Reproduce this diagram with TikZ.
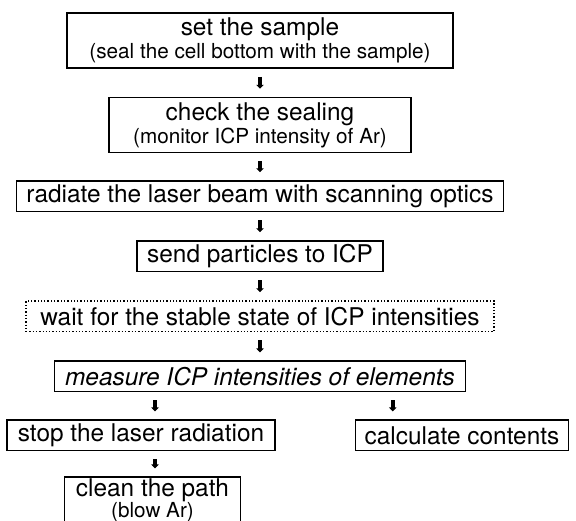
\documentclass[tikz,border=0pt]{standalone}
\usepackage{fontspec}
\setmainfont{TeX Gyre Heros}
\usetikzlibrary{positioning,arrows.meta}
\newcommand{\paren}[1]{{\fontsize{20.7pt}{23pt}\selectfont #1}}

\begin{document}
\begin{tikzpicture}[
        stage/.style={draw, line width=1.5pt, inner sep=0pt, align=center, minimum height=30.5pt, font=\fontsize{24.4pt}{23pt}\selectfont},
        waitstage/.style={stage, line width=1.6pt, dash pattern=on 1.3pt off 2pt},
        flow/.style={line width=4pt, -{Triangle[width=7.5pt,length=4pt]}, shorten <=8pt, shorten >=8pt}
    ]
        \useasboundingbox (0,0) rectangle (576pt,-520pt);
        \clip (0,0) rectangle (576pt,-520pt);

        % Main column
        \node[stage, minimum width=386pt, minimum height=55pt] (sample) at (260pt,-40.5pt)
            {set the sample\\ \paren{(seal the cell bottom with the sample)}};
        \node[stage, minimum width=302pt, minimum height=55pt, below=28pt of sample] (sealing)
            {check the sealing\\ \paren{(monitor ICP intensity of Ar)}};
        \node[stage, minimum width=487pt, below=27pt of sealing] (laser) {radiate the laser beam with scanning optics};
        \node[stage, minimum width=246pt, below=28pt of laser] (send) {send particles to ICP};
        \node[waitstage, minimum width=468pt, below=28pt of send] (wait) {wait for the stable state of ICP intensities};
        \node[stage, minimum width=411pt, below=28pt of wait] (measure) {\itshape measure ICP intensities of elements};

        % Branches
        \node[stage, minimum width=268pt, below=27pt of measure, xshift=-119pt] (stop) {stop the laser radiation};
        \node[stage, minimum width=213pt, below=27pt of measure, xshift=202pt] (calc) {calculate contents};
        \node[stage, minimum width=176pt, minimum height=56pt, text depth=14pt, below=25pt of stop, xshift=11.5pt] (clean)
            {clean the path\\[-2pt] \paren{(blow Ar)}};

        % Arrows
        \coordinate (drop) at ([xshift=14pt]stop.north);
        \coordinate (intake) at ([xshift=38pt]calc.north west);
        \draw[flow] (sample) -- (sealing);
        \draw[flow] (sealing) -- (laser);
        \draw[flow] (laser) -- (send);
        \draw[flow] (send) -- (wait);
        \draw[flow] (wait) -- (measure);
        \draw[flow] (drop |- measure.south) -- (drop |- stop.north);
        \draw[flow] (drop |- stop.south) -- (drop |- clean.north);
        \draw[flow] (intake |- measure.south) -- (intake);
    \end{tikzpicture}
\end{document}
